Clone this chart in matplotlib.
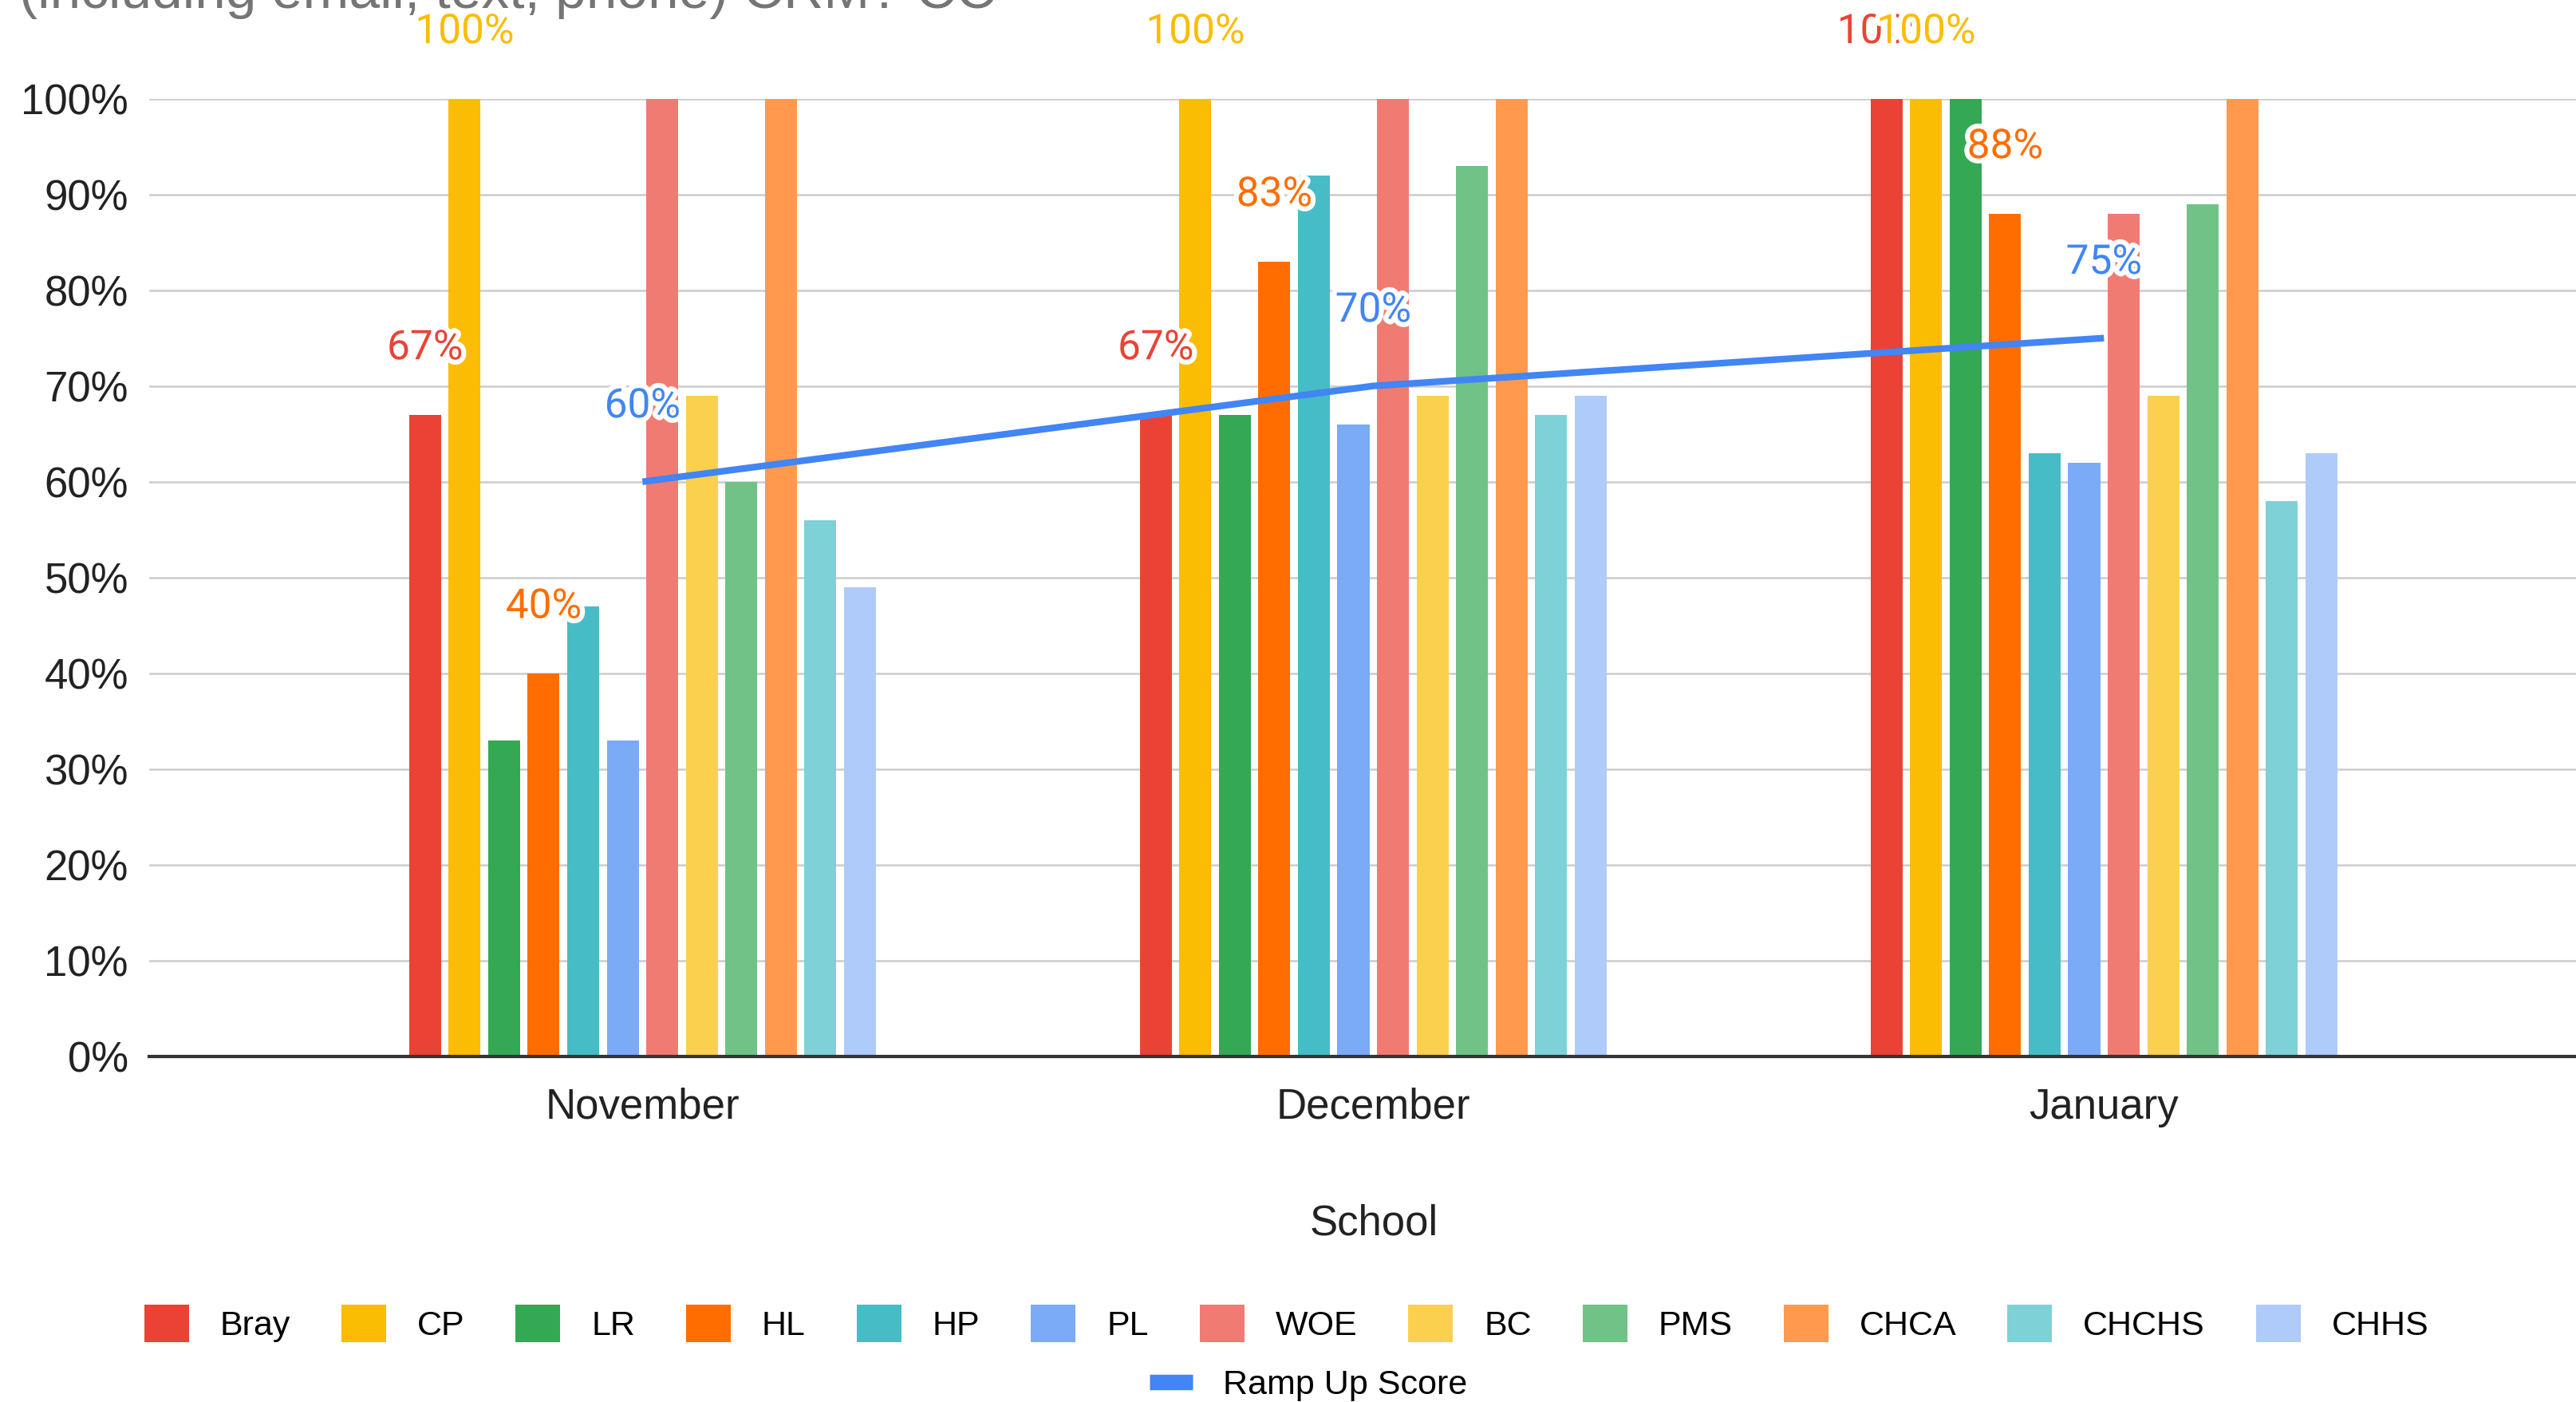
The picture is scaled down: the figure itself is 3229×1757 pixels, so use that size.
"""
    grouped bar chart of school scores per month with the ramp up score line
"""

import numpy as np
import matplotlib
matplotlib.use("Agg")
import matplotlib.pyplot as plt
import matplotlib.patheffects as pe
from matplotlib.patches import Patch
from matplotlib.lines import Line2D

months = ["November", "December", "January"]
schools = ["Bray", "CP", "LR", "HL", "HP", "PL", "WOE", "BC", "PMS",
           "CHCA", "CHCHS", "CHHS"]
colors = ["#EA4335", "#FBBC04", "#34A853", "#FF6D01", "#46BDC6", "#7BAAF7",
          "#F07B72", "#FCD04F", "#71C287", "#FF994D", "#7ED1D7", "#AFCBFA"]

bray = [0.67, 0.67, 1.00]
cp = [1.00, 1.00, 1.00]
lr = [0.33, 0.67, 1.00]
hl = [0.40, 0.83, 0.88]
hp = [0.47, 0.92, 0.63]
pl = [0.33, 0.66, 0.62]
woe = [1.00, 1.00, 0.88]
bc = [0.69, 0.69, 0.69]
pms = [0.60, 0.93, 0.89]
chca = [1.00, 1.00, 1.00]
chchs = [0.56, 0.67, 0.58]
chhs = [0.49, 0.69, 0.63]
ramp_up = [0.60, 0.70, 0.75]
ramp_color = "#4285F4"

# only these series show their values above the bars
labelled = ["Bray", "CP", "HL"]

series = [bray, cp, lr, hl, hp, pl, woe, bc, pms, chca, chchs, chhs]

fig = plt.figure(figsize=(32.29, 17.57), dpi=100)
ax = fig.add_axes([0.058, 0.2464, 0.942, 0.6833])

x = np.arange(len(months))
pitch = 0.0541
width = 0.0437
halo = [pe.withStroke(linewidth=9, foreground="white")]

for i, (name, vals, col) in enumerate(zip(schools, series, colors)):
    pos = x + (i - 5.5) * pitch
    ax.bar(pos, vals, width, color=col, zorder=2)
    if name in labelled:
        for px, v in zip(pos, vals):
            ax.annotate("{:.0f}%".format(v * 100), (px, v),
                        xytext=(0, 50), textcoords="offset points",
                        ha="center", va="baseline", color=col,
                        fontsize=37, family="Roboto", zorder=5,
                        annotation_clip=False, path_effects=halo)

ax.plot(x, ramp_up, color=ramp_color, lw=6, zorder=3,
        solid_capstyle="butt")
for px, v in zip(x, ramp_up):
    ax.annotate("{:.0f}%".format(v * 100), (px, v),
                xytext=(0, 58), textcoords="offset points",
                ha="center", va="baseline", color=ramp_color,
                fontsize=37, family="Roboto", zorder=5,
                annotation_clip=False, path_effects=halo)

ax.set_xlim(-0.6747, 2.646)
ax.set_ylim(0, 1)
ax.set_yticks(np.arange(0, 1.01, 0.1))
ax.set_yticklabels(["{:.0f}%".format(t * 100) for t in np.arange(0, 1.01, 0.1)])
ax.set_xticks(x)
ax.set_xticklabels(months)
ax.tick_params(axis="both", length=0, labelsize=38, labelcolor="#222222")
ax.tick_params(axis="y", pad=19)
ax.tick_params(axis="x", pad=28)
for lab in ax.get_xticklabels() + ax.get_yticklabels():
    lab.set_family("Liberation Sans")

ax.grid(axis="y", color="#cccccc", lw=1.8, zorder=0)
ax.set_axisbelow(True)
for side in ["top", "right", "left"]:
    ax.spines[side].set_visible(False)
ax.spines["bottom"].set_color("#333333")
ax.spines["bottom"].set_linewidth(3)
ax.spines["bottom"].set_zorder(4)

ax.set_xlabel("School", fontsize=38, family="Liberation Sans", color="#222222",
              va="top")
ax.xaxis.set_label_coords(0.5046, -0.1535)

fig.text(0.0075, 1 - 10 / 1757, "(including email, text, phone) CRM? CC",
         fontsize=50, family="Liberation Sans", color="#757575",
         ha="left", va="baseline")

handles = [Patch(facecolor=c, edgecolor="none") for c in colors]
fig.legend(handles, schools, loc="center", bbox_to_anchor=(0.4994, 0.0563),
           ncol=12, frameon=False, handlelength=1.3, handleheight=1.3,
           handletextpad=0.9, columnspacing=1.49, borderpad=0,
           prop={"family": "Liberation Sans", "size": 31})
fig.legend([Line2D([], [], color=ramp_color, lw=14, solid_capstyle="butt")],
           ["Ramp Up Score"], loc="center", bbox_to_anchor=(0.508, 0.012),
           frameon=False, handlelength=1.25, handletextpad=0.9, borderpad=0,
           prop={"family": "Liberation Sans", "size": 31})

fig.savefig("out.png", dpi=100)
